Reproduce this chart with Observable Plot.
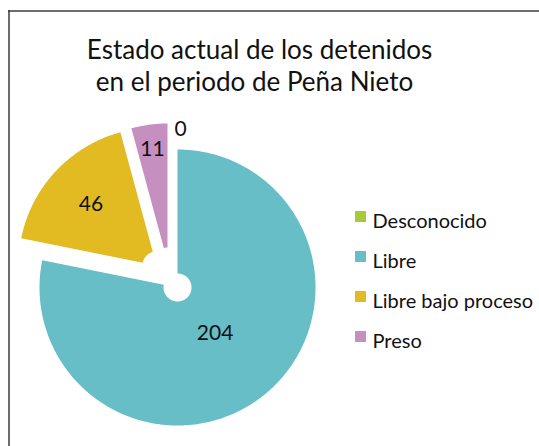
<!DOCTYPE html>
<html>
<head>
<meta charset="utf-8">
<script src="https://cdn.jsdelivr.net/npm/d3@7"></script>
<script src="https://cdn.jsdelivr.net/npm/@observablehq/plot@0.6"></script>
<style>
  html, body { margin: 0; padding: 0; background: #fff; }
  #chart svg { display: block; }
</style>
</head>
<body>
<div id="chart"></div>
<script>
// ---- data ----
const categories = ["Desconocido", "Libre", "Libre bajo proceso", "Preso"];
const values = [0, 204, 46, 11];
const colors = ["#A6CA3A", "#67BEC6", "#E2BA22", "#C58FC0"];
const titleLines = ["Estado actual de los detenidos", "en el periodo de Peña Nieto"];

// ---- layout ----
const W = 539, H = 446;
const FONT = "Lato, 'Open Sans', sans-serif";
const cx = 177, cy = 287, R = 138, R0 = 14;
// explosion offsets of the pulled-out slices [dx, dy]
const explode = {"Libre bajo proceso": [-21, -22], "Preso": [-10, -26]};
const labelFrac = {"Desconocido": 1.15, "Libre": 0.43, "Libre bajo proceso": 0.65, "Preso": 0.82};

const arcs = d3.pie().sort(null).startAngle(0).endAngle(2 * Math.PI)(values);

const pt = (ox, oy, r, a) => [ox + r * Math.sin(a), oy - r * Math.cos(a)];

const polyPts = [];
const labels = [];
arcs.forEach((a, i) => {
  const cat = categories[i];
  const mid = (a.startAngle + a.endAngle) / 2;
  const [ex, ey] = explode[cat] || [0, 0];
  const ox = cx + ex, oy = cy + ey;
  if (a.endAngle > a.startAngle) {
    const n = Math.max(8, Math.ceil((a.endAngle - a.startAngle) / 0.01));
    for (let k = 0; k <= n; k++) {
      const t = a.startAngle + (a.endAngle - a.startAngle) * k / n;
      const [x, y] = pt(ox, oy, R, t);
      polyPts.push({cat, x, y});
    }
    for (let k = n; k >= 0; k--) {
      const t = a.startAngle + (a.endAngle - a.startAngle) * k / n;
      const [x, y] = pt(ox, oy, R0, t);
      polyPts.push({cat, x, y});
    }
  }
  const [lx, ly] = pt(ox, oy, R * labelFrac[cat], mid);
  labels.push({cat, value: values[i], x: lx + (a.value === 0 ? 3 : 0), y: ly});
});

const legend = categories.map((c, i) => ({cat: c, i}));

const chart = Plot.plot({
  width: W, height: H,
  margin: 0,
  x: {domain: [0, W], range: [0, W], axis: null},
  y: {domain: [0, H], range: [0, H], axis: null},
  color: {domain: categories, range: colors},
  style: {fontFamily: FONT, background: "#fff"},
  marks: [
    Plot.ruleX([8.5], {y1: 10, y2: H, stroke: "#3c3c3c", strokeWidth: 1.5}),
    Plot.ruleY([10.5], {x1: 8, x2: W, stroke: "#3c3c3c", strokeWidth: 1.5}),
    Plot.line(polyPts, {x: "x", y: "y", z: "cat", fill: "cat", stroke: null, curve: "linear"}),
    Plot.text(labels, {x: "x", y: "y", text: d => String(d.value), fontSize: 21, fill: "#111", textAnchor: "middle", lineAnchor: "middle"}),
    Plot.text(titleLines, {x: (d, i) => i === 0 ? 259 : 254, y: (d, i) => i === 0 ? 50 : 82, text: d => d, fontSize: 26, fill: "#111", textAnchor: "middle", lineAnchor: "middle"}),
    Plot.rect(legend, {x1: 355, x2: 366, y1: d => 211 + 40 * d.i, y2: d => 222 + 40 * d.i, fill: "cat"}),
    Plot.text(legend, {x: 372, y: d => 221 + 40 * d.i, text: "cat", fontSize: 20, fill: "#111", textAnchor: "start", lineAnchor: "middle"})
  ]
});
document.getElementById("chart").appendChild(chart);
</script>
</body>
</html>
